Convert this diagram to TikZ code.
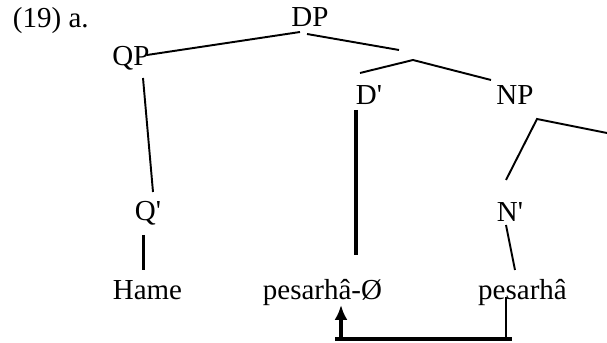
\documentclass[tikz,border=0pt]{standalone}
\usepackage{fontspec}
\setmainfont{Liberation Serif}
\usetikzlibrary{arrows.meta}
\begin{document}
\begin{tikzpicture}[x=0.414pt, y=-0.414pt, >={Latex[length=6.2pt,width=5.4pt]}, line width=0.8pt, font=\fontsize{12}{14}\selectfont]
		\tikzstyle{lab} = [inner sep=0pt, anchor=base]
		\tikzstyle{gros} = [line width=1.25pt]
		\tikzstyle{fleche} = [line width=1.6pt]
		\useasboundingbox (0,0) rectangle (607,343);
		% etiquettes de l'arbre
		\node[lab, anchor=base west] (num) at (12,28) {(19) a.};
		\node[lab] (dp) at (310,27) {DP};
		\node[lab] (qp) at (131,66) {QP};
		\node[lab] (d_bar) at (369,105) {D\textquotesingle};
		\node[lab] (np) at (515,105) {NP};
		\node[lab] (q_bar) at (148,221) {Q\textquotesingle};
		\node[lab] (n_bar) at (510,222) {N\textquotesingle};
		\node[lab] (hame) at (147.5,300) {Hame};
		\node[lab] (pes_zero) at (322.5,300) {pesarhâ-Ø};
		\node[lab] (pes) at (522.5,300) {pesarhâ};
		% bouts des branches
		\coordinate (dp_l) at (300,32);
		\coordinate (qp_r) at (147,55);
		\coordinate (dp_r) at (307,34);
		\coordinate (dbar_top) at (399,50);
		\coordinate (dbar_l) at (360,73);
		\coordinate (dbar_apex) at (413,60);
		\coordinate (dbar_r) at (491,80);
		\coordinate (qp_b) at (143,78);
		\coordinate (qbar_t) at (153,192);
		\coordinate (qbar_b) at (143.5,235);
		\coordinate (hame_t) at (143.5,270);
		\coordinate (d_bar_b) at (356,110);
		\coordinate (pes_zero_t) at (356,255);
		\coordinate (np_apex) at (537,119);
		\coordinate (np_r) at (607,133);
		\coordinate (np_l) at (506,180);
		\coordinate (nbar_b) at (506,225);
		\coordinate (pes_t) at (515,270);
		\coordinate (pes_in) at (506,297);
		\coordinate (pes_bas) at (506,339);
		\coordinate (trait_g) at (335,339);
		\coordinate (trait_d) at (512,339);
		\coordinate (fl_bas) at (341,339);
		\coordinate (fl_haut) at (341,305);
		% branches
		\draw (dp_l) -- (qp_r);
		\draw (dp_r) -- (dbar_top);
		\draw (dbar_l) -- (dbar_apex) -- (dbar_r);
		\draw (qp_b) -- (qbar_t);
		\draw[gros] (qbar_b) -- (hame_t);
		\draw[gros] (d_bar_b) -- (pes_zero_t);
		\draw (np_r) -- (np_apex) -- (np_l);
		\draw (nbar_b) -- (pes_t);
		% deplacement
		\draw[line width=0.6pt] (pes_in) -- (pes_bas);
		\draw[fleche] (trait_g) -- (trait_d);
		\draw[fleche, ->] (fl_bas) -- (fl_haut);
	\end{tikzpicture}
\end{document}
